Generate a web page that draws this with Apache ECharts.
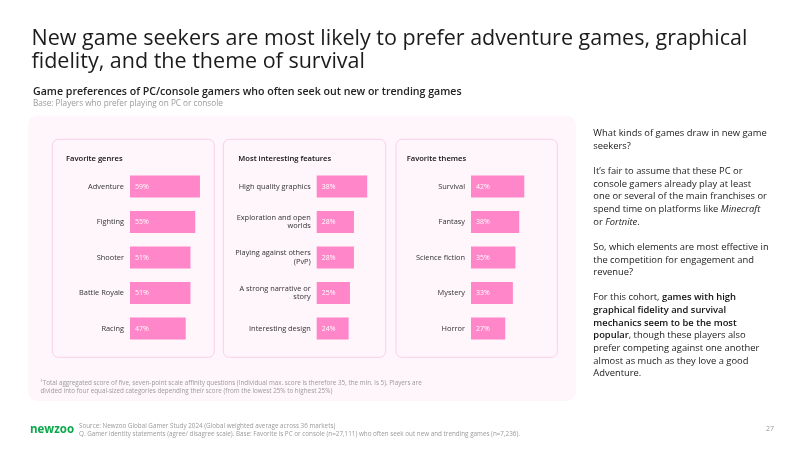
<!DOCTYPE html>
<html>
<head>
<meta charset="utf-8">
<script src="https://cdn.jsdelivr.net/npm/echarts@6/dist/echarts.min.js"></script>
<style>
  html, body { margin: 0; padding: 0; background: #fff; }
  #chart { width: 800px; height: 450px; }
</style>
</head>
<body>
<div id="chart"></div>
<script>
// data
const genreNames = ['Adventure', 'Fighting', 'Shooter', 'Battle Royale', 'Racing']
const genreValues = [59, 55, 51, 51, 47]
const featureNames = ['High quality graphics', 'Exploration and open\nworlds', 'Playing against others\n(PvP)', 'A strong narrative or\nstory', 'Interesting design']
const featureValues = [38, 28, 28, 25, 24]
const themeNames = ['Survival', 'Fantasy', 'Science fiction', 'Mystery', 'Horror']
const themeValues = [42, 38, 35, 33, 27]
const panelTitles = ['Favorite genres', 'Most interesting features', 'Favorite themes']

const FONT = 'Open Sans, sans-serif'
const PINK = '#ff86c8'
const TXT = '#222'
const GREY = '#9a9a9a'

const chart = echarts.init(document.getElementById('chart'))

// 三个面板的网格
const gridTop = 168.75, gridH = 177.5
const grids = [
  { left: 130, width: 83, top: gridTop, height: gridH },
  { left: 316.7, width: 66.5, top: gridTop, height: gridH },
  { left: 471, width: 82.5, top: gridTop, height: gridH }
]
const axisMax = [70, 50, 65]
const cats = [genreNames, featureNames, themeNames]
const vals = [genreValues, featureValues, themeValues]

const panels = [
  { x: 52.3, w: 162, tx: 66 },
  { x: 223.3, w: 162.4, tx: 238.3 },
  { x: 396, w: 161.3, tx: 406.7 }
]

const bodyText = [
  'What kinds of games draw in new game',
  'seekers?',
  '',
  'It\u2019s fair to assume that these PC or',
  'console gamers already play at least',
  'one or several of the main franchises or',
  'spend time on platforms like {i|Minecraft}',
  'or {i|Fortnite}.',
  '',
  'So, which elements are most effective in',
  'the competition for engagement and',
  'revenue?',
  '',
  'For this cohort, {b|games with high}',
  '{b|graphical fidelity and survival}',
  '{b|mechanics seem to be the most}',
  '{b|popular}, though these players also',
  'prefer competing against one another',
  'almost as much as they love a good',
  'Adventure.'
].join('\n')

function txt(x, y, text, size, color, weight, extra) {
  return {
    type: 'text', x, y, silent: true,
    style: Object.assign({
      text, fill: color, fontSize: size, fontFamily: FONT,
      fontWeight: weight || 'normal', verticalAlign: 'middle'
    }, extra || {})
  }
}

const graphics = [
  // 外层浅粉背景
  { type: 'rect', shape: { x: 28, y: 115.7, width: 548, height: 285.3, r: 9 }, style: { fill: '#fef6fb' }, z: -10 },
  ...panels.map(p => ({
    type: 'rect', shape: { x: p.x, y: 139.3, width: p.w, height: 218, r: 6 },
    style: { fill: '#fef6fb', stroke: '#fbd0e8', lineWidth: 1 }, z: -9
  })),
  ...panels.map((p, i) => txt(p.tx, 159, panelTitles[i], 7.6, '#111', 600)),
  txt(31.5, 39, 'New game seekers are most likely to prefer adventure games, graphical', 21.5, '#1c1c1c', 500),
  txt(31.5, 62, 'fidelity, and the theme of survival', 21.5, '#1c1c1c', 500),
  txt(33, 92, 'Game preferences of PC/console gamers who often seek out new or trending games', 10.6, TXT, 600),
  txt(33, 104, 'Base: Players who prefer playing on PC or console', 8.2, GREY),
  txt(40.5, 383.3, '\u00b9Total aggregated score of five, seven-point scale affinity questions (Individual max. score is therefore 35, the min. is 5). Players are', 6.3, GREY),
  txt(40.5, 391, 'divided into four equal-sized categories depending their score (from the lowest 25% to highest 25%)', 6.3, GREY),
  txt(30, 430, 'newzoo', 11.5, '#0aa84a', 700),
  txt(79, 426.7, 'Source: Newzoo Global Gamer Study 2024 (Global weighted average across 36 markets)', 6.3, GREY),
  txt(79, 434, 'Q. Gamer identity statements (agree/ disagree scale). Base: Favorite is PC or console (n=27,111) who often seek out new and trending games (n=7,236).', 6.3, GREY),
  txt(766, 428.7, '27', 7, GREY),
  {
    type: 'text', x: 593.3, y: 127, silent: true,
    style: {
      text: bodyText, fill: TXT, fontSize: 9.4, fontFamily: FONT, lineHeight: 12.65,
      verticalAlign: 'top',
      rich: {
        b: { fontWeight: 600, fill: '#111', fontSize: 9.4, fontFamily: FONT, lineHeight: 12.65 },
        i: { fontStyle: 'italic', fill: TXT, fontSize: 9.4, fontFamily: FONT, lineHeight: 12.65 }
      }
    }
  }
]

chart.setOption({
  animation: false,
  grid: grids,
  xAxis: grids.map((g, i) => ({
    type: 'value', gridIndex: i, min: 0, max: axisMax[i], show: false
  })),
  yAxis: grids.map((g, i) => ({
    type: 'category', gridIndex: i, data: cats[i], inverse: true,
    axisLine: { show: false }, axisTick: { show: false },
    axisLabel: { color: '#333', fontSize: 7.4, fontFamily: FONT, margin: 6, lineHeight: 8.6, align: 'right' }
  })),
  series: vals.map((v, i) => ({
    type: 'bar', xAxisIndex: i, yAxisIndex: i, data: v, barWidth: 22,
    itemStyle: { color: PINK },
    label: {
      show: true, position: 'insideLeft', distance: 5, formatter: '{c}%',
      color: '#fff', fontSize: 7, fontFamily: FONT
    }
  })),
  graphic: graphics
})
</script>
</body>
</html>
